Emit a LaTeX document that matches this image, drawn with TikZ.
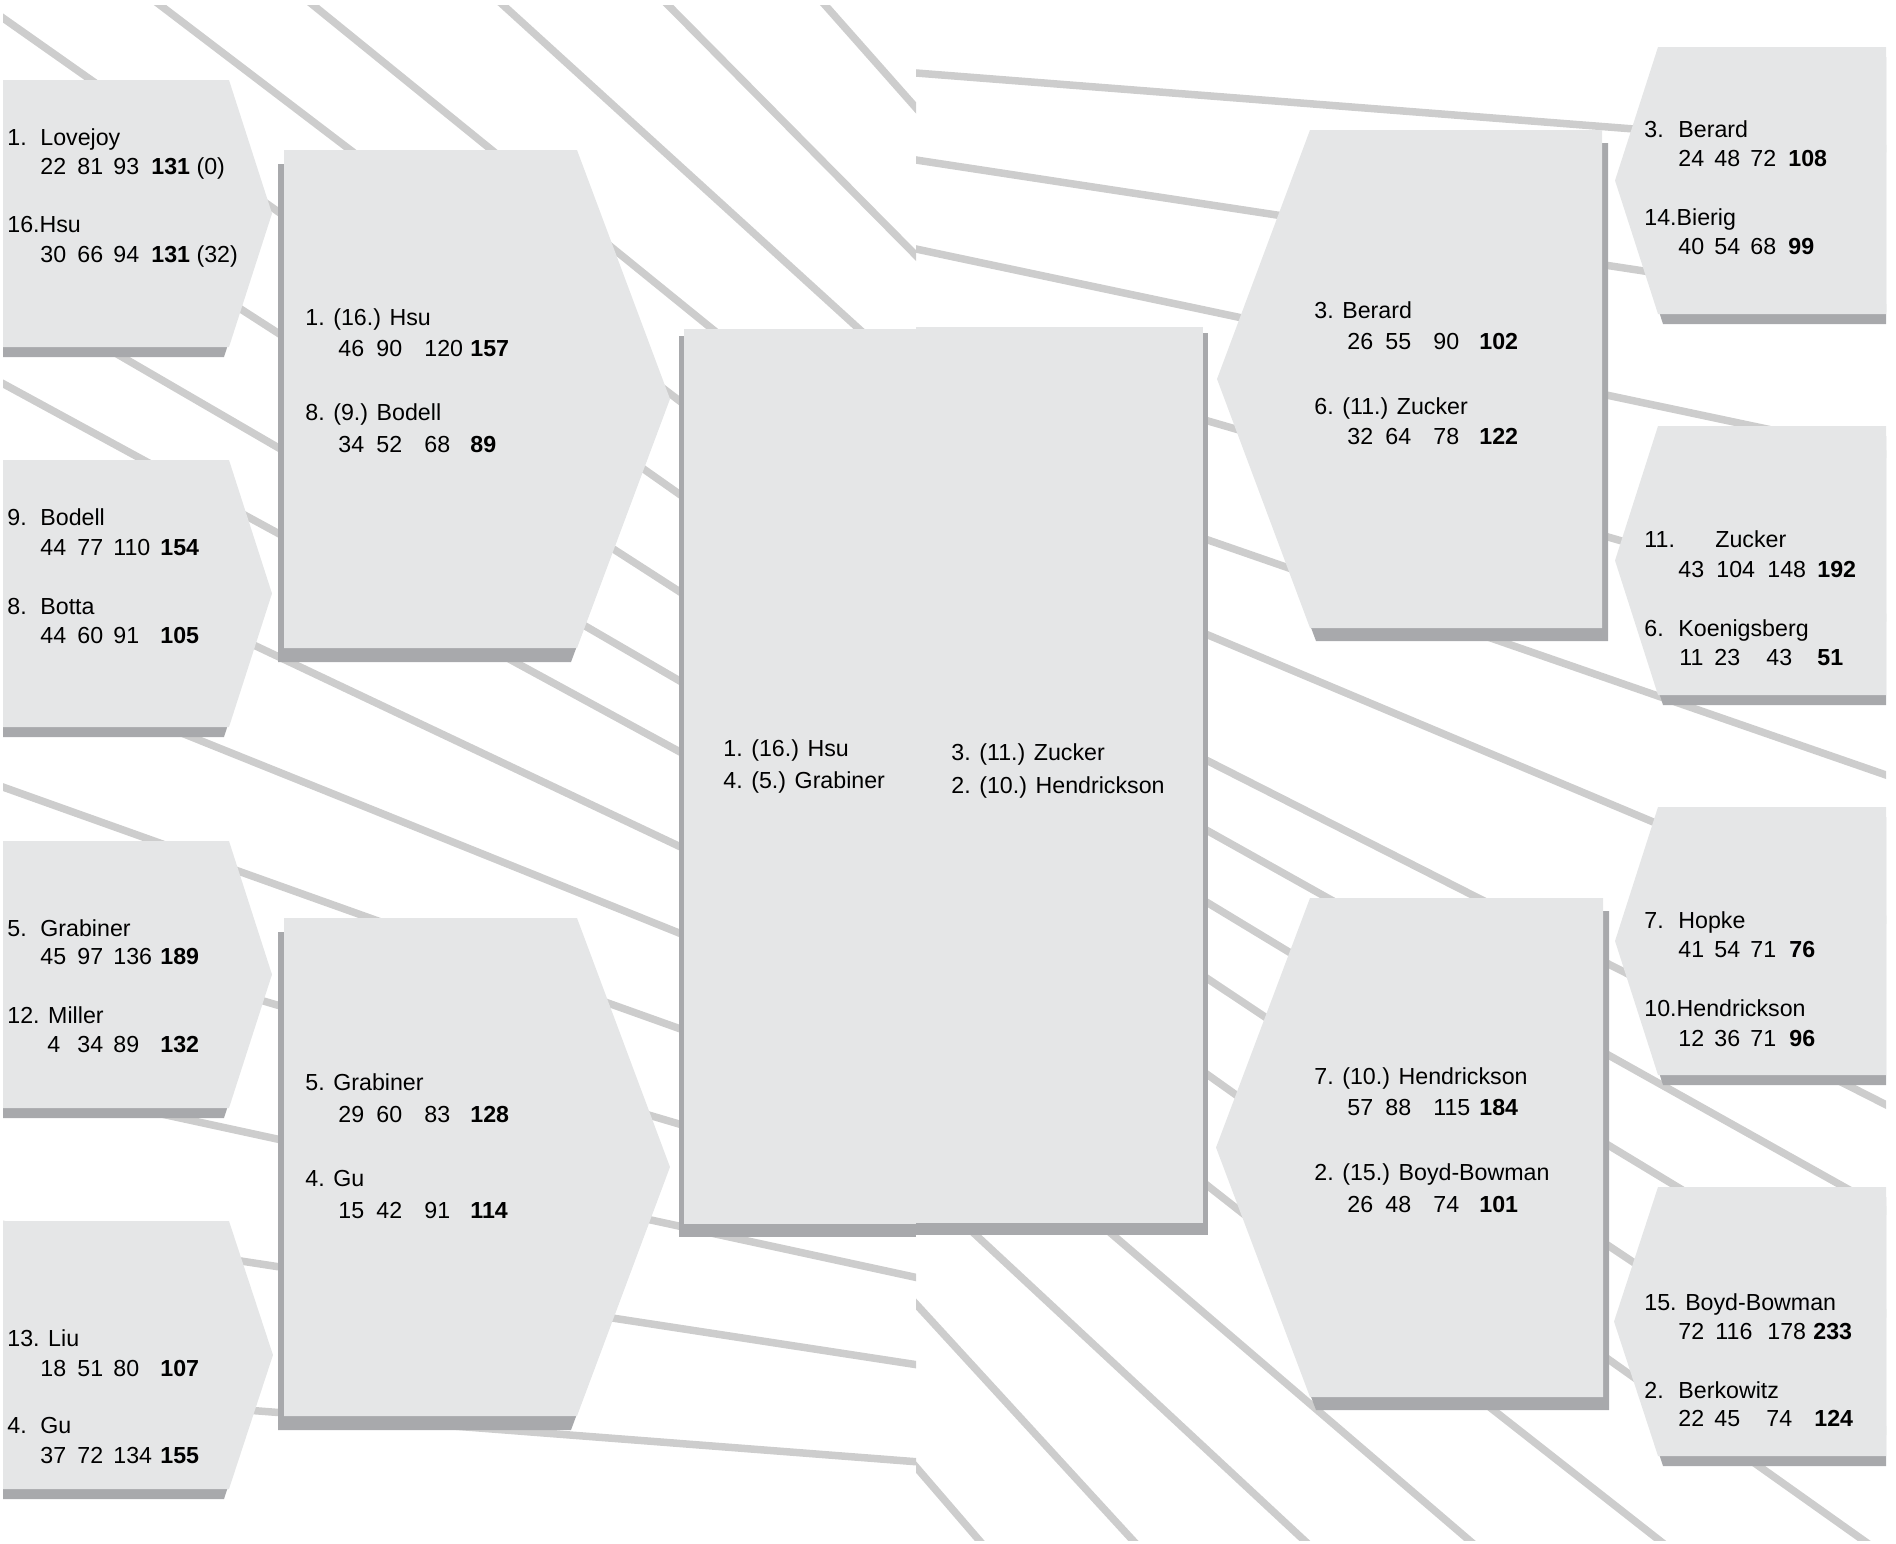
\documentclass[tikz,border=0pt]{standalone}
\usepackage{fontspec}
\setmainfont{Liberation Sans}

\definecolor{boxface}{RGB}{229,230,231}
\definecolor{boxshade}{RGB}{168,169,172}
\definecolor{stripe}{RGB}{205,205,205}

% flat side x, top, slant x, tip x, bottom, shadow shift
\newcommand\hexbox[6]{\fill[boxshade, shift={#6}] (#1,#2) -- (#3,#2) -- (#4,{(#2+#5)/2}) -- (#3,#5) -- (#1,#5) -- cycle; \fill[boxface] (#1,#2) -- (#3,#2) -- (#4,{(#2+#5)/2}) -- (#3,#5) -- (#1,#5) -- cycle; }
\newcommand\seedname[3]{\makebox[#1pt][l]{#2}#3}
\newcommand\scorerow[7]{\makebox[#1pt][l]{#4}\makebox[#2pt][l]{#5}\makebox[#3pt][l]{#6}\textbf{#7}}

\begin{document}
\begin{tikzpicture}[x=0.5pt, y=-0.5pt,
    txt/.style={anchor=base west, inner sep=0pt, yshift=1pt, font=\fontsize{11.6}{14}\selectfont},
    stripeline/.style={draw=stripe, line width=3.75pt}]
    \useasboundingbox (0,0) rectangle (1896,1543);

    % stripes, left page
    \begin{scope}
      \clip (3,5) rectangle (916,1540);
      \foreach \xa/\ya/\sl in {3/18/0.704, 160/5/0.762, 313/5/0.8116, 503/5/0.91, 668/5/1.01, 825/5/1.13,
          0/154/0.644, 0/286/0.581, 0/382/0.544, 0/525/0.473, 0/660/0.402, 0/786/0.357,
          0/923/0.296, 0/1079/0.2166, 0/1224/0.1535, 0/1391/0.0772}
        \draw[stripeline] (\xa,\ya) ++(-100,{-100*\sl}) -- ++(1200,{1200*\sl});
    \end{scope}

    % stripes, right page
    \begin{scope}
      \clip (916,5) rectangle (1886,1540);
      \foreach \xa/\ya/\sl in {916/73/0.078, 916/160/0.1525, 916/249/0.2115, 1208/421/0.29,
          1208/540/0.3466, 1208/635/0.42, 1208/761/0.507, 1208/831/0.5596, 1208/903/0.605,
          1208/979/0.666, 1208/1075/0.71, 1208/1186/0.785, 1113/1235/0.857, 978/1237/0.93,
          916/1304/1.09, 916/1467/1.16}
        \draw[stripeline] (\xa,\ya) ++(-100,{-100*\sl}) -- ++(1200,{1200*\sl});
    \end{scope}

    \begin{scope}
      \clip (3,5) rectangle (1886,1540);
      % left column
      \hexbox{3}{80}{229}{272}{347}{(-5,10)}
      \hexbox{3}{460}{229}{272}{727}{(-5,10)}
      \hexbox{3}{841}{229}{272}{1108}{(-5,10)}
      \hexbox{3}{1221}{229}{273}{1489}{(-5,10)}
      % second column
      \hexbox{284}{150}{577}{670}{648}{(-6,14)}
      \hexbox{284}{918}{577}{670}{1416}{(-6,14)}
      % centre, two pages
      \fill[boxshade] (679,336) rectangle (916,1237);
      \fill[boxface] (684,329) rectangle (916,1224);
      \fill[boxshade] (916,333) rectangle (1208,1235);
      \fill[boxface] (916,327) rectangle (1203,1223);
      % right middle column
      \hexbox{1602}{130}{1310}{1217}{628}{(6,13)}
      \hexbox{1603}{898}{1310}{1216}{1397}{(6,13)}
      % right column
      \hexbox{1886}{47}{1658}{1615}{314}{(5,10)}
      \hexbox{1886}{426}{1658}{1615}{695}{(5,10)}
      \hexbox{1886}{807}{1658}{1615}{1075}{(5,10)}
      \hexbox{1886}{1187}{1658}{1614}{1456}{(5,10)}
    \end{scope}

    % left column
    \node[txt] (lovejoy) at (7,147) {\seedname{16.5}{1.}{Lovejoy}};
    \node[txt] (lovejoyS) at (40,176) {\scorerow{18.5}{18}{19}{22}{81}{93}{131} (0)};
    \node[txt] (hsu) at (7,234.5) {16.Hsu};
    \node[txt] (hsuS) at (40,264.5) {\scorerow{18.5}{18}{19}{30}{66}{94}{131} (32)};
    \node[txt] (bodell) at (7,527) {\seedname{16.5}{9.}{Bodell}};
    \node[txt] (bodellS) at (40,557) {\scorerow{18.5}{18}{23.5}{44}{77}{110}{154}};
    \node[txt] (botta) at (7,616) {\seedname{16.5}{8.}{Botta}};
    \node[txt] (bottaS) at (40,645) {\scorerow{18.5}{18}{23.5}{44}{60}{91}{105}};
    \node[txt] (grabiner) at (7,938) {\seedname{16.5}{5.}{Grabiner}};
    \node[txt] (grabinerS) at (40,966.5) {\scorerow{18.5}{18}{23.5}{45}{97}{136}{189}};
    \node[txt] (miller) at (7,1025.5) {12. Miller};
    \node[txt] (millerS) at (40,1054) {\scorerow{18.5}{18}{23.5}{\hspace{3.5pt}4}{34}{89}{132}};
    \node[txt] (liu) at (7,1348) {13. Liu};
    \node[txt] (liuS) at (40,1378) {\scorerow{18.5}{18}{23.5}{18}{51}{80}{107}};
    \node[txt] (gu) at (7,1435.5) {\seedname{16.5}{4.}{Gu}};
    \node[txt] (guS) at (40,1465.5) {\scorerow{18.5}{18}{23.5}{37}{72}{134}{155}};

    % second column
    \node[txt] (hsuB) at (305,327) {1. (16.) Hsu};
    \node[txt] (hsuBS) at (338,358) {\scorerow{19}{24}{23}{46}{90}{120}{157}};
    \node[txt] (bodellB) at (305,422) {8. (9.) Bodell};
    \node[txt] (bodellBS) at (338,454) {\scorerow{19}{24}{23}{34}{52}{68}{89}};
    \node[txt] (grabinerB) at (305,1092) {5. Grabiner};
    \node[txt] (grabinerBS) at (338,1124) {\scorerow{19}{24}{23}{29}{60}{83}{128}};
    \node[txt] (guB) at (305,1188) {4. Gu};
    \node[txt] (guBS) at (338,1220) {\scorerow{19}{24}{23}{15}{42}{91}{114}};

    % centre
    \node[txt] (hsuC) at (723,758.5) {1. (16.) Hsu};
    \node[txt] (grabinerC) at (723,790.5) {4. (5.) Grabiner};
    \node[txt] (zuckerC) at (951,762.5) {3. (11.) Zucker};
    \node[txt] (hendricksonC) at (951,795) {2. (10.) Hendrickson};

    % right middle column
    \node[txt] (berardB) at (1314,320) {3. Berard};
    \node[txt] (berardBS) at (1347,351) {\scorerow{19}{24}{23}{26}{55}{90}{102}};
    \node[txt] (zuckerB) at (1314,416) {6. (11.) Zucker};
    \node[txt] (zuckerBS) at (1347,446) {\scorerow{19}{24}{23}{32}{64}{78}{122}};
    \node[txt] (hendricksonB) at (1314,1086) {7. (10.) Hendrickson};
    \node[txt] (hendricksonBS) at (1347,1117) {\scorerow{19}{24}{23}{57}{88}{115}{184}};
    \node[txt] (boydB) at (1314,1182) {2. (15.) Boyd-Bowman};
    \node[txt] (boydBS) at (1347,1214) {\scorerow{19}{24}{23}{26}{48}{74}{101}};

    % right column
    \node[txt] (berard) at (1644,139) {\seedname{17}{3.}{Berard}};
    \node[txt] (berardS) at (1678,168.5) {\scorerow{18}{18}{19}{24}{48}{72}{108}};
    \node[txt] (bierig) at (1644,227.5) {14.Bierig};
    \node[txt] (bierigS) at (1678,256) {\scorerow{18}{18}{19}{40}{54}{68}{99}};
    \node[txt] (zucker) at (1644,549) {\seedname{35.5}{11.}{Zucker}};
    \node[txt] (zuckerS) at (1678,579) {\scorerow{19}{25.5}{25}{43}{104}{148}{192}};
    \node[txt] (koenigsberg) at (1644,638) {\seedname{17}{6.}{Koenigsberg}};
    \node[txt] (koenigsbergS) at (1679,667.5) {\scorerow{17.5}{26}{25.5}{11}{23}{43}{51}};
    \node[txt] (hopke) at (1644,930.5) {\seedname{17}{7.}{Hopke}};
    \node[txt] (hopkeS) at (1678,959) {\scorerow{18}{18}{19.5}{41}{54}{71}{76}};
    \node[txt] (hendrickson) at (1644,1018) {10.Hendrickson};
    \node[txt] (hendricksonS) at (1678,1048) {\scorerow{18}{18}{19.5}{12}{36}{71}{96}};
    \node[txt] (boyd) at (1644,1312) {15. Boyd-Bowman};
    \node[txt] (boydS) at (1678,1341) {\scorerow{18.5}{26}{23}{72}{116}{178}{233}};
    \node[txt] (berkowitz) at (1644,1400) {\seedname{17}{2.}{Berkowitz}};
    \node[txt] (berkowitzS) at (1678,1428) {\scorerow{18}{26}{24}{22}{45}{74}{124}};
\end{tikzpicture}
\end{document}
